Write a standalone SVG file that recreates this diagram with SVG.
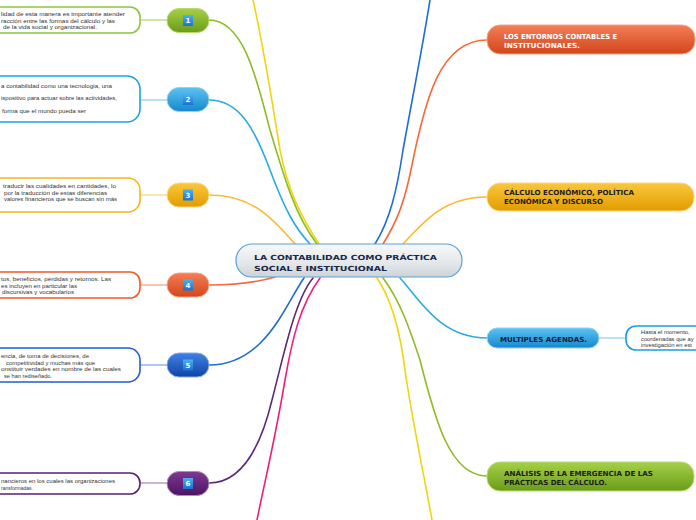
<svg xmlns="http://www.w3.org/2000/svg" width="696" height="520" viewBox="0 0 696 520">
<defs>
<linearGradient id="gCenter" x1="0" y1="0" x2="0" y2="1"><stop offset="0" stop-color="#f7f8f9"/><stop offset="0.6" stop-color="#e3e7ea"/><stop offset="1" stop-color="#cdd3d7"/></linearGradient>
<linearGradient id="gGreen" x1="0" y1="0" x2="0" y2="1"><stop offset="0" stop-color="#a6d04a"/><stop offset="1" stop-color="#6a9c18"/></linearGradient>
<linearGradient id="gLBlue" x1="0" y1="0" x2="0" y2="1"><stop offset="0" stop-color="#5cc2f2"/><stop offset="1" stop-color="#1588cc"/></linearGradient>
<linearGradient id="gGold" x1="0" y1="0" x2="0" y2="1"><stop offset="0" stop-color="#fbc73c"/><stop offset="1" stop-color="#e19c00"/></linearGradient>
<linearGradient id="gOrange" x1="0" y1="0" x2="0" y2="1"><stop offset="0" stop-color="#f47e56"/><stop offset="1" stop-color="#d2461c"/></linearGradient>
<linearGradient id="gBlue" x1="0" y1="0" x2="0" y2="1"><stop offset="0" stop-color="#3d82e4"/><stop offset="1" stop-color="#1243a6"/></linearGradient>
<linearGradient id="gPurple" x1="0" y1="0" x2="0" y2="1"><stop offset="0" stop-color="#7e3a92"/><stop offset="1" stop-color="#4c1462"/></linearGradient>
<linearGradient id="gBadge" x1="0" y1="0" x2="0" y2="1"><stop offset="0" stop-color="#4cb0f0"/><stop offset="1" stop-color="#1a72d0"/></linearGradient>
</defs>
<style>
.c{fill:none;stroke-width:1.6;stroke-linecap:round}
.s{fill:none;stroke-width:1.3}
.box{fill:#fff;stroke-width:1.6}
.bt{font-family:"Liberation Sans",Arial,sans-serif;font-size:5.8px;fill:#333}
.hd{font-family:"DejaVu Sans",Verdana,sans-serif;font-weight:bold;font-size:7px}
.num{font-family:"DejaVu Sans",Verdana,sans-serif;font-weight:bold;font-size:7px;fill:#fff;text-anchor:middle}
.pill{stroke-width:1}
</style>
<g id="connectors">
<path class="c" stroke="#f0d50e" d="M319,244 C300,215 288,190 280,150 C272,100 262,40 253,0"/>
<path class="c" stroke="#8dbb25" d="M317,244 C295,215 285,180 270,130 C258,85 245,20 209,20"/>
<path class="c" stroke="#29abe2" d="M310,244 C295,228 285,210 270,170 C255,130 240,100 209,100"/>
<path class="c" stroke="#fbb829" d="M295,244 C270,215 250,195 209,195"/>
<path class="c" stroke="#f26a3c" d="M275,277 C255,283 235,285 209,285"/>
<path class="c" stroke="#1d6ad6" d="M304,278 C285,305 265,365 209,365"/>
<path class="c" stroke="#5d2a7a" d="M313,278 C295,300 285,350 272,400 C260,450 240,483 209,483"/>
<path class="c" stroke="#ee1f7a" d="M320,278 C300,305 292,340 285,380 C275,440 265,480 257,520"/>
<path class="c" stroke="#1e6ed8" d="M375,244 C390,220 397,190 403,150 C412,100 422,50 430,0"/>
<path class="c" stroke="#f4693a" d="M383,244 C398,220 405,200 412,165 C425,100 440,40 487,40"/>
<path class="c" stroke="#fbb829" d="M403,244 C425,220 445,197 487,197"/>
<path class="c" stroke="#29abe2" d="M400,278 C420,300 440,338 487,338"/>
<path class="c" stroke="#8dbb25" d="M383,278 C400,300 410,330 420,360 C435,420 450,476 487,476"/>
<path class="c" stroke="#f0d50e" d="M377,278 C392,300 400,330 405,370 C412,420 425,480 432,520"/>
<path class="s" stroke="#b9dc74" d="M140,20 L167,20"/>
<path class="s" stroke="#93d3f2" d="M140,100 L167,100"/>
<path class="s" stroke="#fcd684" d="M140,195 L167,195"/>
<path class="s" stroke="#f7a586" d="M140,285 L167,285"/>
<path class="s" stroke="#86abe8" d="M140,365 L167,365"/>
<path class="s" stroke="#ad8dbd" d="M140,483 L167,483"/>
<path class="s" stroke="#93d3f2" d="M599,338 L626,338"/>
</g>
<g id="center">
<rect x="236" y="244" width="226" height="33" rx="16" fill="url(#gCenter)" stroke="#5b9fd8" stroke-width="1.2"/>
<text class="hd" x="254" y="259.5" font-size="9" fill="#1b2747" textLength="183" lengthAdjust="spacingAndGlyphs">LA CONTABILIDAD COMO PRÁCTICA</text>
<text class="hd" x="254" y="270.5" font-size="9" fill="#1b2747" textLength="133" lengthAdjust="spacingAndGlyphs">SOCIAL E INSTITUCIONAL</text>
</g>
<g id="n1">
<rect class="box" x="-20" y="7" width="160" height="26" rx="10" stroke="#8cc63f"/>
<text class="bt" x="1" y="16" textLength="124" lengthAdjust="spacingAndGlyphs">lidad de esta manera es importante atender</text>
<text class="bt" x="1" y="22.5" textLength="114" lengthAdjust="spacingAndGlyphs">racción entre las formas del cálculo y las</text>
<text class="bt" x="3" y="29" textLength="94" lengthAdjust="spacingAndGlyphs">de la vida  social y organizacional.</text>
<rect class="pill" x="167" y="8.5" width="42" height="24" rx="12" fill="url(#gGreen)" stroke="#b5d96a"/>
<rect x="183" y="15" width="10" height="11" fill="url(#gBadge)"/>
<text class="num" x="188" y="23">1</text>
</g>
<g id="n2">
<rect class="box" x="-20" y="76" width="160" height="46" rx="13" stroke="#1ea0e8"/>
<text class="bt" x="1" y="87.5" textLength="111" lengthAdjust="spacingAndGlyphs">a contabilidad como una tecnología, una</text>
<text class="bt" x="1" y="100" textLength="116" lengthAdjust="spacingAndGlyphs">ispositivo para actuar sobre las actividades,</text>
<text class="bt" x="2" y="112.5" textLength="84" lengthAdjust="spacingAndGlyphs">forma que el mundo pueda ser</text>
<rect class="pill" x="167" y="87.5" width="42" height="24" rx="12" fill="url(#gLBlue)" stroke="#93d3f2"/>
<rect x="183" y="94" width="10" height="11" fill="url(#gBadge)"/>
<text class="num" x="188" y="102">2</text>
</g>
<g id="n3">
<rect class="box" x="-20" y="178" width="160" height="34" rx="12" stroke="#f8b614"/>
<text class="bt" x="3" y="188" textLength="113" lengthAdjust="spacingAndGlyphs">traducir las cualidades en cantidades, lo</text>
<text class="bt" x="4" y="194.5" textLength="103" lengthAdjust="spacingAndGlyphs">por la traducción de estas diferencias</text>
<text class="bt" x="4" y="201" textLength="113" lengthAdjust="spacingAndGlyphs">valores  financieros que se buscan sin más</text>
<rect class="pill" x="167" y="183" width="42" height="24" rx="12" fill="url(#gGold)" stroke="#fcd684"/>
<rect x="183" y="189.5" width="10" height="11" fill="url(#gBadge)"/>
<text class="num" x="188" y="197.5">3</text>
</g>
<g id="n4">
<rect class="box" x="-20" y="272" width="160" height="26" rx="10" stroke="#f05a28"/>
<text class="bt" x="1" y="281" textLength="110" lengthAdjust="spacingAndGlyphs">tos, beneficios, pérdidas y retornos. Las</text>
<text class="bt" x="1" y="287.5" textLength="76" lengthAdjust="spacingAndGlyphs">es incluyen en particular las</text>
<text class="bt" x="2" y="294" textLength="72" lengthAdjust="spacingAndGlyphs">discursivas y  vocabularios</text>
<rect class="pill" x="167" y="273" width="42" height="24" rx="12" fill="url(#gOrange)" stroke="#f7a586"/>
<rect x="183" y="279.5" width="10" height="11" fill="url(#gBadge)"/>
<text class="num" x="188" y="287.5">4</text>
</g>
<g id="n5">
<rect class="box" x="-20" y="348" width="160" height="34" rx="12" stroke="#1e5fd0"/>
<text class="bt" x="1" y="358" textLength="88" lengthAdjust="spacingAndGlyphs">encia, de toma de decisiones, de</text>
<text class="bt" x="6" y="364.5" textLength="89" lengthAdjust="spacingAndGlyphs">competitividad y muchas más que</text>
<text class="bt" x="1" y="371" textLength="120" lengthAdjust="spacingAndGlyphs">onstituir verdades en  nombre de las cuales</text>
<text class="bt" x="4" y="377.5" textLength="48" lengthAdjust="spacingAndGlyphs">se han rediseñado.</text>
<rect class="pill" x="167" y="353" width="42" height="24" rx="12" fill="url(#gBlue)" stroke="#86abe8"/>
<rect x="183" y="359.5" width="10" height="11" fill="url(#gBadge)"/>
<text class="num" x="188" y="367.5">5</text>
</g>
<g id="n6">
<rect class="box" x="-20" y="473" width="160" height="21" rx="10" stroke="#5b2170"/>
<text class="bt" x="1" y="483" textLength="114" lengthAdjust="spacingAndGlyphs">nancieros en los cuales las organizaciones</text>
<text class="bt" x="1" y="489.5" textLength="32" lengthAdjust="spacingAndGlyphs">ransformadas.</text>
<rect class="pill" x="167" y="471.5" width="42" height="24" rx="12" fill="url(#gPurple)" stroke="#ad8dbd"/>
<rect x="183" y="478" width="10" height="11" fill="url(#gBadge)"/>
<text class="num" x="188" y="486">6</text>
</g>
<g id="r1">
<rect class="pill" x="487" y="25" width="208" height="29" rx="13" fill="url(#gOrange)" stroke="#f7a586"/>
<text class="hd" x="504" y="38.5" fill="#fff" textLength="113" lengthAdjust="spacingAndGlyphs">LOS ENTORNOS CONTABLES E</text>
<text class="hd" x="504" y="47.5" fill="#fff" textLength="76" lengthAdjust="spacingAndGlyphs">INSTITUCIONALES.</text>
</g>
<g id="r2">
<rect class="pill" x="487" y="183" width="207" height="28" rx="13" fill="url(#gGold)" stroke="#fcd684"/>
<text class="hd" x="504" y="194.5" fill="#1c1c1c" textLength="130" lengthAdjust="spacingAndGlyphs">CÁLCULO ECONÓMICO, POLÍTICA</text>
<text class="hd" x="504" y="203.5" fill="#1c1c1c" textLength="99" lengthAdjust="spacingAndGlyphs">ECONÓMICA Y DISCURSO</text>
</g>
<g id="r3">
<rect class="pill" x="487" y="328" width="112" height="20" rx="10" fill="url(#gLBlue)" stroke="#93d3f2"/>
<text class="hd" x="500" y="341.5" fill="#0f1d3a" textLength="87" lengthAdjust="spacingAndGlyphs">MULTIPLES AGENDAS.</text>
<rect class="box" x="626" y="326" width="100" height="24" rx="10" stroke="#1e9be8"/>
<text class="bt" x="641" y="334">Hasta el momento,</text>
<text class="bt" x="641" y="340.5">coordenadas que ay</text>
<text class="bt" x="641" y="347">investigación en est</text>
</g>
<g id="r4">
<rect class="pill" x="487" y="462" width="207" height="29" rx="13" fill="url(#gGreen)" stroke="#b9dc74"/>
<text class="hd" x="504" y="475.5" fill="#1c1c1c" textLength="149" lengthAdjust="spacingAndGlyphs">ANÁLISIS DE LA EMERGENCIA DE LAS</text>
<text class="hd" x="504" y="484.5" fill="#1c1c1c" textLength="103" lengthAdjust="spacingAndGlyphs">PRÁCTICAS DEL CÁLCULO.</text>
</g>
</svg>
